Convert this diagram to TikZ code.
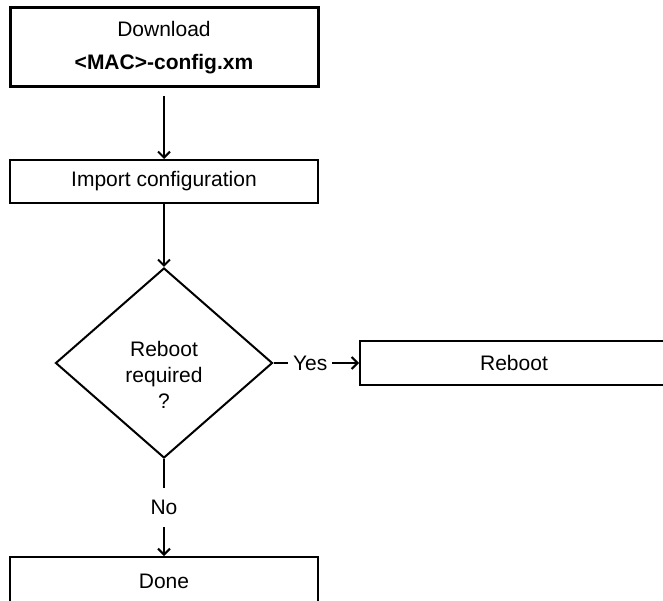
\documentclass[tikz,border=0pt]{standalone}
\usepackage{fontspec}
\setmainfont{Liberation Sans}
\usetikzlibrary{shapes.geometric, arrows.meta}
\begin{document}
\begin{tikzpicture}[x=1pt, y=-1pt,
    box/.style={draw=black, line width=2pt, fill=white, minimum width=308pt, inner sep=0pt, align=center, font=\fontsize{21}{33}\selectfont},
    decision/.style={diamond, draw=black, line width=2pt, minimum width=217pt, minimum height=190pt, inner sep=0pt, align=center, font=\fontsize{21}{26}\selectfont},
    arrow/.style={-{Straight Barb[length=6pt, width=12pt]}, line width=2pt},
    lbl/.style={fill=white, inner sep=5pt, font=\fontsize{21}{24}\selectfont}
]
\useasboundingbox (0,0) rectangle (663,601);
\clip (0,0) rectangle (663,601);

\node[box, line width=3pt, minimum height=79pt] (dl) at (164,47.5) {Download\\\textbf{<MAC>-config.xm}};
\node[box, minimum height=43pt] (imp) at (164,181.5) {Import configuration};
\node[decision] (chk) at (164,363) {\rule{0pt}{38pt}Reboot\\required\\?};
\node[box, minimum height=44pt] (rbt) at (514,363) {Reboot};
\node[box, minimum height=48pt] (done) at (164,581) {Done};

\draw[arrow, shorten <=8pt] (dl) -- (imp);
\draw[arrow] (imp) -- (chk);
\draw[arrow] (chk) -- node[lbl, pos=0.43] {Yes} (rbt);
\draw[arrow] (chk) -- node[lbl, inner ysep=12pt] {No} (done);

\end{tikzpicture}
\end{document}
